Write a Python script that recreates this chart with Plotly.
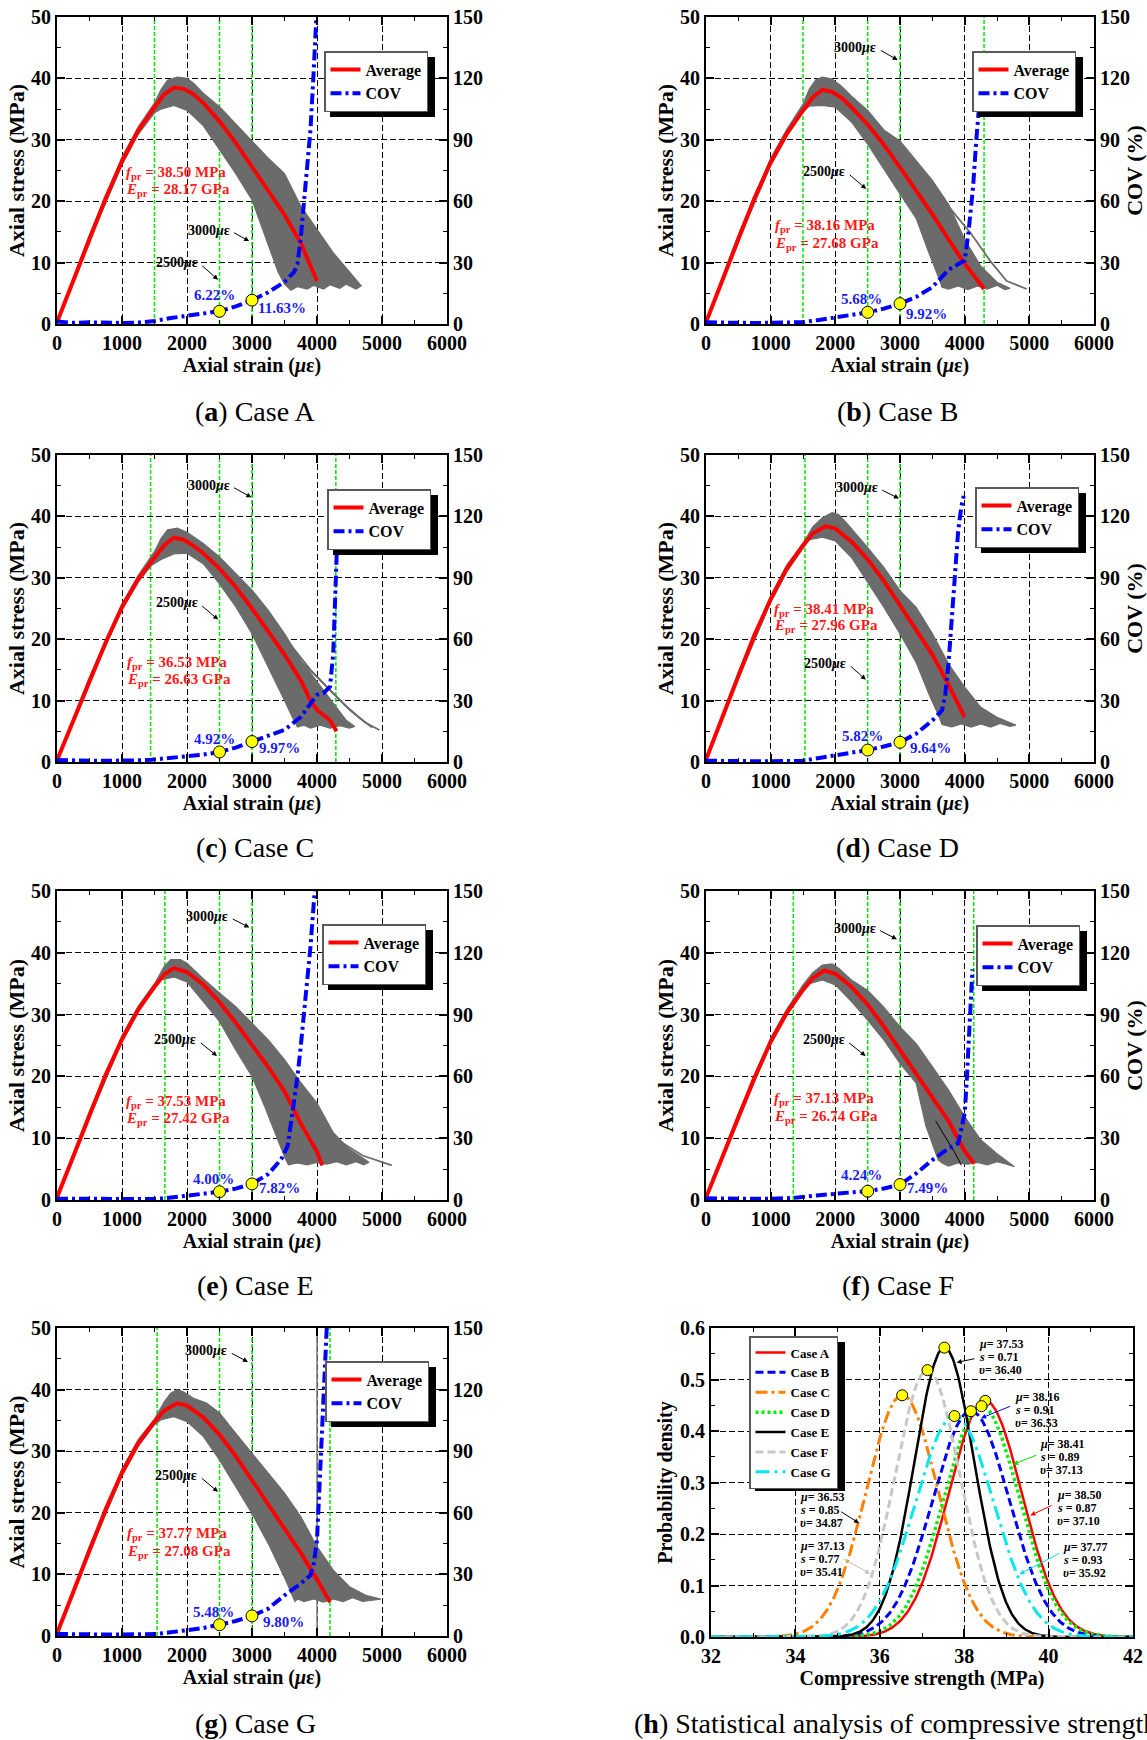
import numpy as np
import plotly.graph_objects as go

W, H = 1147, 1740
SERIF = "Liberation Serif, Times New Roman, Times, serif"

# ---------------- data ----------------
case_names = ["Case A", "Case B", "Case C", "Case D", "Case E", "Case F", "Case G"]
f_pr = [38.50, 38.16, 36.53, 38.41, 37.53, 37.13, 37.77]      # MPa
E_pr = [28.17, 27.68, 26.63, 27.96, 27.42, 26.74, 27.08]      # GPa
cov_2500 = [6.22, 5.68, 4.92, 5.82, 4.00, 4.24, 5.48]         # %
cov_3000 = [11.63, 9.92, 9.97, 9.64, 7.82, 7.49, 9.80]        # %
marker_strains = [2500, 3000]

# average stress-strain curves (strain in microstrain, stress in MPa)
avg_a = [(0, 0.3), (250, 7.0), (500, 14.0), (750, 20.5), (1000, 26.5), (1250, 31.5), (1500, 35.3), (1650, 37.4),
         (1800, 38.50), (1950, 38.3), (2100, 37.4), (2250, 36.0), (2500, 33.0), (2750, 29.5), (3000, 25.6),
         (3250, 21.7), (3500, 17.8), (3750, 13.2), (4000, 7.0)]
avg_b = [(0, 0.3), (250, 7.0), (500, 14.0), (750, 20.5), (1000, 26.3), (1250, 31.0), (1500, 34.8), (1650, 36.9),
         (1800, 38.16), (1950, 37.8), (2100, 36.8), (2250, 35.3), (2500, 32.5), (2750, 29.2), (3000, 25.5),
         (3250, 21.7), (3500, 17.9), (3750, 13.8), (4000, 9.8), (4150, 7.8), (4300, 5.7)]
avg_c = [(0, 0.3), (250, 6.7), (500, 13.3), (750, 19.5), (1000, 25.2), (1250, 29.8), (1500, 33.3), (1650, 35.3),
         (1800, 36.53), (1950, 36.2), (2100, 35.2), (2250, 34.0), (2500, 31.5), (2750, 28.5), (3000, 25.0),
         (3250, 21.3), (3500, 17.5), (3750, 13.3), (3900, 10.0), (4000, 8.5), (4100, 7.6), (4200, 6.8), (4300, 5.0)]
avg_d = [(0, 0.4), (250, 7.0), (500, 14.0), (750, 20.7), (1000, 26.5), (1250, 31.5), (1500, 35.3), (1650, 37.2),
         (1850, 38.41), (2000, 38.0), (2250, 35.9), (2500, 33.0), (2750, 29.5), (3000, 25.5), (3250, 21.6),
         (3500, 17.5), (3750, 12.6), (4000, 7.3)]
avg_e = [(0, 0.4), (250, 6.9), (500, 13.8), (750, 20.3), (1000, 26.0), (1250, 30.8), (1500, 34.5), (1650, 36.5),
         (1800, 37.53), (2000, 36.9), (2250, 34.9), (2500, 32.0), (2750, 28.7), (3000, 25.2), (3250, 21.5),
         (3500, 17.6), (3750, 12.4), (4000, 7.8), (4080, 5.6)]
avg_f = [(0, 0.4), (250, 6.8), (500, 13.4), (750, 19.8), (1000, 25.6), (1250, 30.3), (1500, 34.0), (1650, 35.9),
         (1830, 37.13), (2000, 36.6), (2250, 34.5), (2500, 31.6), (2750, 28.1), (3000, 24.2), (3250, 20.4),
         (3500, 16.6), (3750, 12.8), (3900, 9.7), (4000, 7.9), (4150, 5.9)]
avg_g = [(0, 0.4), (250, 7.0), (500, 14.0), (750, 20.6), (1000, 26.5), (1250, 31.3), (1500, 34.8), (1650, 36.6),
         (1850, 37.77), (2000, 37.4), (2250, 35.5), (2500, 32.7), (2750, 29.2), (3000, 25.3), (3250, 21.5),
         (3500, 17.6), (3750, 13.5), (4000, 9.2), (4200, 5.5)]

# coefficient of variation of stress (%) against strain
cov_a = [(0, 1.2), (250, 0.6), (500, 0.8), (750, 0.5), (1000, 0.5), (1250, 0.7), (1500, 1.5), (1750, 2.9),
         (2000, 3.9), (2250, 5.0), (2500, 6.22), (2750, 8.6), (3000, 11.63), (3250, 15.5), (3500, 20.5),
         (3650, 25.5), (3700, 29.5), (3750, 42.0), (3800, 60.0), (3850, 78.0), (3900, 95.0), (3950, 124.0),
         (3990, 150.0)]
cov_b = [(0, 0.8), (250, 0.6), (500, 0.7), (750, 0.5), (1000, 0.6), (1250, 0.6), (1500, 0.9), (1750, 2.0),
         (2000, 3.3), (2250, 4.4), (2500, 5.68), (2750, 7.5), (3000, 9.92), (3250, 13.2), (3500, 18.0),
         (3750, 26.5), (3900, 29.3), (4000, 31.0), (4060, 45.0), (4130, 67.0), (4180, 90.0), (4225, 107.0)]
cov_c = [(0, 1.0), (250, 0.7), (500, 0.6), (750, 0.6), (1000, 0.6), (1250, 0.8), (1450, 1.1), (1750, 2.0),
         (2000, 2.8), (2250, 3.6), (2500, 4.92), (2750, 7.0), (3000, 9.97), (3250, 12.6), (3500, 15.7),
         (3750, 22.0), (3900, 28.5), (4000, 32.8), (4100, 33.6), (4200, 36.8), (4250, 53.0), (4280, 77.0),
         (4300, 102.0), (4310, 108.0)]
cov_d = [(0, 0.6), (250, 0.4), (500, 0.6), (750, 0.4), (1000, 0.4), (1250, 0.4), (1500, 0.6), (1750, 2.0),
         (2000, 3.3), (2250, 4.5), (2500, 5.82), (2750, 7.6), (3000, 9.64), (3250, 13.8), (3500, 20.3),
         (3650, 25.2), (3700, 33.0), (3750, 48.0), (3800, 70.0), (3850, 93.0), (3900, 113.0), (3950, 125.0),
         (3985, 130.0)]
cov_e = [(0, 0.6), (250, 0.5), (500, 0.6), (750, 0.4), (1000, 0.4), (1250, 0.5), (1500, 0.6), (1650, 0.8),
         (2000, 2.1), (2250, 2.9), (2500, 4.00), (2750, 5.5), (3000, 7.82), (3250, 12.6), (3450, 19.8),
         (3550, 26.3), (3600, 37.5), (3650, 48.8), (3700, 60.0), (3750, 74.6), (3800, 90.7), (3850, 106.8),
         (3900, 123.0), (3950, 144.0), (3965, 150.0)]
cov_f = [(0, 0.8), (250, 0.6), (500, 0.7), (750, 0.6), (1000, 0.6), (1250, 0.8), (1350, 1.0), (1750, 2.3),
         (2000, 3.2), (2250, 3.7), (2500, 4.24), (2750, 5.6), (3000, 7.49), (3250, 12.9), (3500, 19.4),
         (3750, 25.0), (3900, 27.5), (3950, 35.6), (4000, 42.0), (4030, 56.6), (4060, 72.7), (4090, 89.0),
         (4110, 106.7), (4120, 112.0)]
cov_g = [(0, 1.0), (250, 0.8), (500, 0.9), (750, 0.7), (1000, 0.7), (1250, 0.8), (1540, 1.0), (1750, 1.8),
         (2000, 2.8), (2250, 3.9), (2500, 5.48), (2750, 7.3), (3000, 9.80), (3250, 13.3), (3500, 19.8),
         (3750, 25.5), (3900, 29.6), (3950, 35.3), (4000, 46.7), (4020, 59.7), (4050, 82.5), (4080, 102.0),
         (4100, 118.0), (4130, 139.4), (4150, 150.0)]

# envelope of the individual specimen curves: upper branch, ragged tail ends, lower branch
band_top_a = [(0, 0.5), (500, 14.6), (1000, 27.2), (1250, 32.1), (1500, 36.0), (1600, 38.2), (1700, 39.7),
              (1850, 40.2), (2000, 40.0), (2100, 39.2), (2250, 37.6), (2500, 35.4), (2750, 32.6), (3000, 29.8),
              (3250, 27.0), (3500, 24.5), (3750, 19.2), (4000, 15.4), (4250, 11.6), (4500, 8.5), (4680, 6.2)]
band_end_a = [(4600, 5.7), (4450, 6.5), (4350, 5.8), (4200, 6.4), (4100, 5.7), (3950, 6.3), (3850, 5.7),
              (3700, 6.1), (3600, 5.5)]
band_low_a = [(3500, 6.5), (3400, 8.5), (3300, 11.5), (3150, 16.0), (3000, 20.2), (2750, 24.5), (2500, 28.3),
              (2250, 32.3), (2000, 34.8), (1800, 35.6), (1600, 35.0), (1500, 34.4), (1250, 30.9), (1000, 25.9),
              (500, 13.5), (0, 0.0)]

band_top_b = [(0, 0.5), (500, 14.6), (1000, 27.0), (1250, 31.7), (1500, 35.8), (1600, 38.3), (1700, 39.8),
              (1800, 40.2), (1950, 39.9), (2100, 38.7), (2250, 37.1), (2500, 34.8), (2750, 31.6), (3000, 29.8),
              (3250, 26.6), (3500, 23.4), (3750, 19.5), (4000, 13.8), (4250, 9.4), (4500, 6.8), (4700, 5.8)]
band_end_b = [(4620, 5.6), (4500, 6.3), (4350, 5.7), (4200, 6.2), (4050, 5.6), (3900, 6.2), (3750, 5.7),
              (3650, 6.0)]
band_low_b = [(3600, 7.5), (3450, 11.5), (3250, 17.2), (3000, 21.2), (2750, 25.3), (2500, 29.3), (2250, 32.9),
              (2000, 35.3), (1800, 35.6), (1600, 35.5), (1500, 34.5), (1250, 30.6), (1000, 25.8), (500, 13.5),
              (0, 0.0)]

band_top_c = [(0, 0.5), (500, 13.9), (1000, 25.8), (1250, 30.4), (1500, 34.3), (1600, 36.4), (1700, 37.8),
              (1850, 38.1), (2000, 37.4), (2250, 35.6), (2500, 33.4), (2750, 30.7), (3000, 28.0), (3250, 24.7),
              (3500, 20.9), (3750, 16.6), (4000, 13.0), (4250, 9.6), (4450, 6.8), (4580, 5.8)]
band_end_c = [(4500, 5.5), (4350, 5.9), (4200, 5.5), (4050, 6.0), (3900, 5.5), (3800, 6.0), (3700, 5.7)]
band_low_c = [(3640, 6.9), (3500, 10.0), (3250, 15.5), (3000, 20.9), (2750, 25.3), (2500, 29.0), (2250, 32.3),
              (2000, 34.0), (1800, 33.9), (1600, 33.0), (1450, 32.0), (1250, 29.3), (1000, 24.8), (500, 13.0),
              (0, 0.0)]

band_top_d = [(0, 0.6), (500, 14.6), (1000, 27.1), (1250, 32.1), (1500, 35.6), (1650, 38.3), (1800, 39.8),
              (1950, 40.6), (2050, 40.3), (2200, 38.6), (2500, 34.9), (2750, 31.7), (3000, 27.9), (3250, 25.2),
              (3500, 20.9), (3750, 16.0), (4000, 12.2), (4250, 8.9), (4500, 7.3), (4790, 6.0)]
band_end_d = [(4700, 5.8), (4550, 6.3), (4400, 5.7), (4250, 6.2), (4100, 5.7), (3950, 6.2), (3800, 5.7),
              (3650, 6.1)]
band_low_d = [(3600, 7.5), (3450, 11.0), (3250, 16.2), (3000, 20.9), (2750, 25.2), (2500, 29.3), (2250, 33.3),
              (2000, 36.0), (1800, 36.6), (1600, 36.2), (1500, 34.8), (1250, 31.0), (1000, 26.0), (500, 13.5),
              (0, 0.0)]

band_top_e = [(0, 0.6), (500, 14.4), (1000, 26.6), (1250, 31.4), (1500, 35.0), (1650, 37.8), (1750, 38.9),
              (1900, 38.9), (2000, 38.3), (2250, 35.8), (2500, 33.5), (2750, 31.3), (3000, 28.6), (3250, 25.9),
              (3500, 22.7), (3750, 19.0), (4000, 15.7), (4250, 10.9), (4500, 8.2), (4800, 6.1)]
band_end_e = [(4720, 5.7), (4600, 6.2), (4450, 5.7), (4300, 6.2), (4150, 5.8), (4000, 6.1), (3850, 5.7),
              (3700, 6.0), (3560, 5.7)]
band_low_e = [(3500, 7.0), (3350, 11.0), (3200, 15.0), (3000, 20.0), (2750, 24.3), (2500, 28.9), (2250, 32.1),
              (2000, 35.3), (1800, 36.1), (1600, 35.6), (1500, 34.3), (1250, 30.4), (1000, 25.6), (500, 13.3),
              (0, 0.0)]

band_top_f = [(0, 0.6), (500, 14.0), (1000, 26.2), (1250, 30.9), (1500, 34.8), (1650, 36.8), (1800, 38.0),
              (1950, 38.2), (2050, 37.5), (2250, 35.6), (2500, 33.9), (2750, 31.2), (3000, 28.0), (3250, 25.3),
              (3500, 21.6), (3750, 17.8), (4000, 13.5), (4250, 9.7), (4500, 7.5), (4770, 5.4)]
band_end_f = [(4650, 5.8), (4500, 6.2), (4350, 5.7), (4200, 6.1), (4050, 5.8), (3900, 6.0), (3750, 5.5),
              (3650, 6.0)]
band_low_f = [(3590, 6.5), (3400, 12.0), (3250, 18.9), (3000, 22.1), (2750, 25.9), (2500, 29.1), (2250, 32.1),
              (2000, 34.8), (1800, 35.6), (1600, 35.0), (1500, 33.8), (1250, 29.9), (1000, 25.2), (500, 13.0),
              (0, 0.0)]

band_top_g = [(0, 0.6), (500, 14.6), (1000, 27.1), (1250, 31.9), (1500, 35.2), (1650, 38.0), (1750, 39.4),
              (1850, 40.0), (1950, 39.6), (2100, 38.6), (2300, 37.8), (2500, 36.2), (2750, 32.9), (3000, 29.7),
              (3250, 26.4), (3500, 23.2), (3750, 19.4), (4000, 14.5), (4250, 10.7), (4500, 8.0), (4750, 6.6),
              (4980, 6.0)]
band_end_g = [(4850, 5.8), (4700, 5.6), (4550, 6.2), (4400, 5.6), (4250, 6.0), (4100, 5.5), (3950, 6.0),
              (3800, 5.6), (3700, 6.0)]
band_low_g = [(3660, 5.6), (3500, 9.5), (3250, 15.0), (3000, 19.9), (2750, 24.2), (2500, 28.6), (2250, 32.4),
              (2000, 34.8), (1800, 35.6), (1600, 35.1), (1500, 34.3), (1250, 30.8), (1000, 26.0), (500, 13.5),
              (0, 0.0)]

# specimens whose softening branch runs outside the main envelope
extra_b = [[(3550, 22.0), (3800, 18.5), (4100, 14.7), (4400, 10.2), (4650, 7.0), (4960, 5.7)]]
extra_c = [[(3600, 19.0), (3900, 15.0), (4200, 11.7), (4500, 8.5), (4750, 6.4), (4960, 5.2)],
           [(3800, 16.0), (4100, 12.8), (4400, 9.6), (4650, 7.2), (4850, 5.6)]]
extra_e = [[(4050, 13.0), (4350, 9.5), (4700, 7.2), (5000, 6.1), (5150, 5.6)]]
extra_f_dark = [[(3550, 12.8), (3700, 10.2), (3850, 7.6), (3950, 5.6)]]

# strain levels marked by green reference lines
green_a = [1500, 2500, 3000]
green_b = [1500, 2500, 3000, 4300]
green_c = [1440, 2500, 3000, 4290]
green_d = [1530, 2500, 3000]
green_e = [1660, 2500, 3000]
green_f = [1350, 2500, 3000, 4140]
green_g = [1540, 2500, 3000, 4200]
solid_ref_g = 4000

# normal fits of compressive strength
mu = [38.50, 38.16, 36.53, 38.41, 37.53, 37.13, 37.77]
sd = [0.87, 0.91, 0.85, 0.89, 0.71, 0.77, 0.93]
upsilon = [37.10, 36.53, 34.87, 37.13, 36.40, 35.41, 35.92]

avg_all = [avg_a, avg_b, avg_c, avg_d, avg_e, avg_f, avg_g]
cov_all = [cov_a, cov_b, cov_c, cov_d, cov_e, cov_f, cov_g]
band_all = [band_top_a + band_end_a + band_low_a, band_top_b + band_end_b + band_low_b,
            band_top_c + band_end_c + band_low_c, band_top_d + band_end_d + band_low_d,
            band_top_e + band_end_e + band_low_e, band_top_f + band_end_f + band_low_f,
            band_top_g + band_end_g + band_low_g]
extra_all = [[], extra_b, extra_c, [], extra_e, [], []]
green_all = [green_a, green_b, green_c, green_d, green_e, green_f, green_g]

# ---------------- styling / placement ----------------
RED = "#ff0000"
BLUE = "#0000ff"
GREEN = "#00e600"
GRAY = "#6b6b6b"
COV_DASH = "11px,4px,3px,4px"
TICKFONT = dict(family=SERIF, size=20, color="black", weight="bold")
TITLEFONT = dict(family=SERIF, size=20, color="black", weight="bold")
YTITLEFONT = dict(family=SERIF, size=22, color="black", weight="bold")

COLS = [(57, 447), (706, 1094)]
ROWS = [(17, 324), (455, 762), (891, 1200), (1328, 1636)]
CAP_X = [255, 898]
CAP_Y = [412, 848, 1285, 1723]
LEGEND_PX = [(324, 51), (972, 51), (327, 489), (975, 487), (322, 924), (976, 925), (325, 1361)]
LEG_W, LEG_H = 105, 60

# text / arrow placement inside each panel (data coordinates)
TXT = [
    dict(t3=(2700, 15.0), h3=(2956, 13.5), t25=(2210, 9.7), h25=(2478, 7.2), p25=(2416, 4.7), p30=(3460, 2.55), fp=(1028, 24.6, 21.9)),
    dict(t3=(2680, 44.7), h3=(2964, 43.0), t25=(2200, 24.5), h25=(2477, 22.0), p25=(2410, 4.1), p30=(3415, 1.6), fp=(1041, 16.0, 13.1)),
    dict(t3=(2700, 44.8), h3=(2990, 43.1), t25=(2210, 25.6), h25=(2480, 23.2), p25=(2429, 3.8), p30=(3423, 2.2), fp=(1041, 16.1, 13.4)),
    dict(t3=(2700, 44.4), h3=(2985, 42.9), t25=(2215, 15.8), h25=(2472, 13.4), p25=(2421, 4.3), p30=(3472, 2.3), fp=(1026, 24.7, 22.1)),
    dict(t3=(2680, 45.6), h3=(2959, 44.1), t25=(2190, 25.6), h25=(2462, 23.3), p25=(2401, 3.4), p30=(3416, 1.9), fp=(1030, 15.8, 13.1)),
    dict(t3=(2670, 43.7), h3=(2952, 42.2), t25=(2190, 25.6), h25=(2468, 23.3), p25=(2412, 4.0), p30=(3420, 2.0), fp=(1028, 16.4, 13.5)),
    dict(t3=(2665, 46.0), h3=(2938, 44.5), t25=(2205, 25.8), h25=(2477, 23.4), p25=(2415, 3.9), p30=(3487, 2.3), fp=(1041, 16.5, 13.6)),
]


def ax_key(kind, n):
    return f"{kind}axis" if n == 1 else f"{kind}axis{n}"


def ax_ref(kind, n):
    return kind if n == 1 else f"{kind}{n}"


def base_axis(rng, dtick, minor_dtick):
    return dict(range=rng, dtick=dtick, tick0=0, showline=True, linecolor="black", linewidth=2,
                ticks="inside", ticklen=8, tickwidth=1.5, tickcolor="black",
                minor=dict(ticks="inside", ticklen=4, tickwidth=1.2, tickcolor="black",
                           dtick=minor_dtick, tick0=0, showgrid=False),
                zeroline=False, tickfont=TICKFONT, fixedrange=True)


def vlines(xs, y0, y1):
    """Vertical segments joined with gaps, for a single line trace."""
    px, py = [], []
    for v in xs:
        px += [v, v, None]
        py += [y0, y1, None]
    return px, py


GRID = dict(showgrid=True, gridcolor="black", gridwidth=1, griddash="6px,3px")

fig = go.Figure()
layout = dict(width=W, height=H, margin=dict(l=0, r=0, t=0, b=0, autoexpand=False), autosize=False,
              paper_bgcolor="white", plot_bgcolor="white", showlegend=True)
shapes = []
annotations = []

for i in range(7):
    r, c = divmod(i, 2)
    x0p, x1p = COLS[c]
    y0p, y1p = ROWS[r]
    xdom = [x0p / W, x1p / W]
    ydom = [1 - y1p / H, 1 - y0p / H]
    xn, yl, yr2 = i + 1, 2 * i + 1, 2 * i + 2
    xr, ylr, yrr = ax_ref("x", xn), ax_ref("y", yl), ax_ref("y", yr2)
    leg = "legend" if i == 0 else f"legend{i + 1}"

    xa = base_axis([0, 6000], 1000, 500)
    xa.update(GRID, domain=xdom, anchor=ylr, mirror="ticks",
              title=dict(text="Axial strain (<i>μ</i>ε)", font=TITLEFONT, standoff=2))
    layout[ax_key("x", xn)] = xa

    ya = base_axis([0, 50], 10, 5)
    ya.update(GRID, domain=ydom, anchor=xr, mirror="ticks",
              title=dict(text="Axial stress (MPa)", font=YTITLEFONT, standoff=0))
    layout[ax_key("y", yl)] = ya

    y2 = base_axis([0, 150], 30, 15)
    y2.update(domain=ydom, anchor=xr, overlaying=ylr, side="right", showgrid=False)
    if c == 1:
        y2["title"] = dict(text="COV (%)", font=YTITLEFONT, standoff=0)
    layout[ax_key("y", yr2)] = y2

    # green reference lines (drawn first so the curves sit on top)
    gx, gy = vlines(green_all[i], 0, 50)
    fig.add_trace(go.Scatter(x=gx, y=gy, mode="lines", line=dict(color=GREEN, width=1.5, dash="4px,2px"),
                             xaxis=xr, yaxis=ylr, showlegend=False, hoverinfo="skip"))
    if i == 6:
        sx, sy = vlines([solid_ref_g], 0, 50)
        fig.add_trace(go.Scatter(x=sx, y=sy, mode="lines", line=dict(color="#7a7a7a", width=1.5),
                                 xaxis=xr, yaxis=ylr, showlegend=False, hoverinfo="skip"))

    # specimen envelope
    bx, by = zip(*band_all[i])
    fig.add_trace(go.Scatter(x=bx, y=by, mode="lines", fill="toself", fillcolor=GRAY,
                             line=dict(color=GRAY, width=1.2), xaxis=xr, yaxis=ylr,
                             showlegend=False, hoverinfo="skip"))
    for ln in extra_all[i]:
        ex, ey = zip(*ln)
        fig.add_trace(go.Scatter(x=ex, y=ey, mode="lines", line=dict(color=GRAY, width=1.8),
                                 xaxis=xr, yaxis=ylr, showlegend=False, hoverinfo="skip"))
    if i == 5:
        for ln in extra_f_dark:
            ex, ey = zip(*ln)
            fig.add_trace(go.Scatter(x=ex, y=ey, mode="lines", line=dict(color="black", width=1),
                                     xaxis=xr, yaxis=ylr, showlegend=False, hoverinfo="skip"))

    # average curve
    axv, ayv = zip(*avg_all[i])
    fig.add_trace(go.Scatter(x=axv, y=ayv, mode="lines", name="Average", line=dict(color=RED, width=4),
                             xaxis=xr, yaxis=ylr, legend=leg))
    # COV curve
    cx, cy = zip(*cov_all[i])
    fig.add_trace(go.Scatter(x=cx, y=cy, mode="lines", name="COV",
                             line=dict(color=BLUE, width=4, dash=COV_DASH), xaxis=xr, yaxis=yrr, legend=leg))
    fig.add_trace(go.Scatter(x=marker_strains, y=[cov_2500[i], cov_3000[i]], mode="markers",
                             marker=dict(color="#ffff00", size=12, line=dict(color="black", width=1)),
                             xaxis=xr, yaxis=yrr, showlegend=False, hoverinfo="skip"))

    # legend box with drop shadow
    lx, ly = LEGEND_PX[i]
    layout[leg] = dict(x=lx / W, y=1 - ly / H, xanchor="left", yanchor="top", bgcolor="white",
                       bordercolor="#5a5a5a", borderwidth=1.5, itemwidth=30, tracegroupgap=0,
                       font=dict(family=SERIF, size=16, color="black", weight="bold"))
    shapes.append(dict(type="rect", xref="paper", yref="paper", x0=(lx + 6) / W, x1=(lx + LEG_W + 6) / W,
                       y0=1 - (ly + LEG_H + 6) / H, y1=1 - (ly + 6) / H, fillcolor="black",
                       line=dict(width=0), layer="above"))

    # annotations
    t = TXT[i]
    lab_font = dict(family=SERIF, size=14, color="black", weight="bold")
    for key_t, key_h, lbl in (("t3", "h3", "3000"), ("t25", "h25", "2500")):
        tx, ty = t[key_t]
        hx, hy = t[key_h]
        annotations.append(dict(x=tx - 15, y=ty + 0.3, xref=xr, yref=ylr, text=f"{lbl}<i>μ</i>ε",
                                showarrow=False, xanchor="right", yanchor="middle", font=lab_font))
        annotations.append(dict(x=hx, y=hy, ax=tx, ay=ty, xref=xr, yref=ylr, axref=xr, ayref=ylr, text="",
                                showarrow=True, arrowhead=2, arrowsize=1, arrowwidth=1, arrowcolor="black",
                                standoff=0, startstandoff=0))
    pct_font = dict(family=SERIF, size=15, color="#1a1aff", weight="bold")
    annotations.append(dict(x=t["p25"][0], y=t["p25"][1], xref=xr, yref=ylr, text=f"{cov_2500[i]:.2f}%",
                            showarrow=False, font=pct_font))
    annotations.append(dict(x=t["p30"][0], y=t["p30"][1], xref=xr, yref=ylr, text=f"{cov_3000[i]:.2f}%",
                            showarrow=False, font=pct_font))
    red_font = dict(family=SERIF, size=15, color="#ff1a1a", weight="bold")
    fx, fy1, fy2 = t["fp"]
    annotations.append(dict(x=fx, y=fy1, xref=xr, yref=ylr, xanchor="left", showarrow=False, font=red_font,
                            text=f"<i>f</i><sub>pr</sub> = {f_pr[i]:.2f} MPa"))
    annotations.append(dict(x=fx, y=fy2, xref=xr, yref=ylr, xanchor="left", showarrow=False, font=red_font,
                            text=f"<i>E</i><sub>pr</sub> = {E_pr[i]:.2f} GPa"))

    # caption
    letter = "abcdefg"[i]
    annotations.append(dict(x=CAP_X[c] / W, y=1 - CAP_Y[r] / H, xref="paper", yref="paper", showarrow=False,
                            text=f"(<b>{letter}</b>) {case_names[i]}", xanchor="center", yanchor="middle",
                            font=dict(family=SERIF, size=28, color="black")))

# ---------------- panel (h): normal distributions ----------------
hx0, hx1, hy0, hy1 = 711, 1133, 1328, 1637
hxr, hyr = "x8", "y15"
xh = base_axis([32, 42], 2, 1)
xh.update(GRID, domain=[hx0 / W, hx1 / W], anchor=hyr, mirror="ticks", tick0=32,
          title=dict(text="Compressive strength (MPa)", font=TITLEFONT, standoff=2))
xh["minor"]["tick0"] = 32
layout["xaxis8"] = xh
yh = base_axis([0, 0.6], 0.1, 0.05)
yh.update(GRID, domain=[1 - hy1 / H, 1 - hy0 / H], anchor=hxr, mirror="ticks", tickformat=".1f",
          title=dict(text="Probability density", font=TITLEFONT, standoff=2))
layout["yaxis15"] = yh

h_colors = [RED, BLUE, "#ff8000", "#00ee00", "black", "#c8c8c8", "#00e8f0"]
h_dash = ["solid", "8px,4px", "12px,4px,3px,4px", "3px,3px", "solid", "8px,4px", "14px,5px,3px,5px"]
h_width = [2.5, 3, 3, 3.5, 2.5, 3, 3]
xs = np.linspace(32, 42, 401)
peak_x, peak_y = [], []
for k in range(7):
    dens = np.exp(-0.5 * ((xs - mu[k]) / sd[k]) ** 2) / (sd[k] * np.sqrt(2 * np.pi))
    fig.add_trace(go.Scatter(x=xs, y=dens, mode="lines", name=case_names[k],
                             line=dict(color=h_colors[k], width=h_width[k], dash=h_dash[k]),
                             xaxis=hxr, yaxis=hyr, legend="legend8"))
    peak_x.append(mu[k])
    peak_y.append(1 / (sd[k] * np.sqrt(2 * np.pi)))
fig.add_trace(go.Scatter(x=peak_x, y=peak_y, mode="markers",
                         marker=dict(color="#ffff00", size=11, line=dict(color="black", width=1)),
                         xaxis=hxr, yaxis=hyr, showlegend=False, hoverinfo="skip"))

HLEG = (749, 1336, 90, 149)
layout["legend8"] = dict(x=HLEG[0] / W, y=1 - HLEG[1] / H, xanchor="left", yanchor="top", bgcolor="white",
                         bordercolor="#5a5a5a", borderwidth=1.5, itemwidth=30, tracegroupgap=0,
                         font=dict(family=SERIF, size=13, color="black", weight="bold"))
shapes.append(dict(type="rect", xref="paper", yref="paper", x0=(HLEG[0] + 6) / W, x1=(HLEG[0] + HLEG[2] + 6) / W,
                   y0=1 - (HLEG[1] + HLEG[3] + 6) / H, y1=1 - (HLEG[1] + 6) / H, fillcolor="black",
                   line=dict(width=0), layer="above"))

# parameter labels: (case index, label x, middle-line y, arrow tail, arrow head)
H_LABELS = [
    (4, 38.30, 0.543, (38.28, 0.541), (37.82, 0.533)),
    (1, 39.16, 0.440, (39.12, 0.449), (38.40, 0.425)),
    (3, 39.75, 0.349, (39.74, 0.354), (39.16, 0.335)),
    (0, 40.15, 0.250, (40.11, 0.257), (39.57, 0.236)),
    (6, 40.29, 0.149, (40.29, 0.164), (39.31, 0.122)),
    (2, 34.06, 0.247, (35.05, 0.245), (35.51, 0.221)),
    (5, 34.06, 0.152, (35.11, 0.153), (35.77, 0.123)),
]
arrow_col = {4: "black", 1: BLUE, 3: "#00dd00", 0: RED, 6: "#00e0f0", 2: "black", 5: "#c0c0c0"}
small = dict(family=SERIF, size=12, color="black", weight="bold")
for k, lx, ly, tail, head in H_LABELS:
    lines = [f"<i>μ</i>= {mu[k]:.2f}", f"<i>s</i> = {sd[k]:.2f}", f"<i>υ</i>= {upsilon[k]:.2f}"]
    for j, txt in enumerate(lines):
        annotations.append(dict(x=lx, y=ly, xref=hxr, yref=hyr, text=txt, showarrow=False, xanchor="left",
                                yanchor="middle", yshift=(1 - j) * 13, font=small))
    annotations.append(dict(x=head[0], y=head[1], ax=tail[0], ay=tail[1], xref=hxr, yref=hyr, axref=hxr,
                            ayref=hyr, text="", showarrow=True, arrowhead=2, arrowsize=1, arrowwidth=1,
                            arrowcolor=arrow_col[k], standoff=0, startstandoff=0))

annotations.append(dict(x=632 / W, y=1 - 1723 / H, xref="paper", yref="paper", showarrow=False,
                        text="(<b>h</b>) Statistical analysis of compressive strength", xanchor="left",
                        yanchor="middle", font=dict(family=SERIF, size=28, color="black")))

layout["shapes"] = shapes
layout["annotations"] = annotations
fig.update_layout(**layout)
fig.write_html("out.html")
